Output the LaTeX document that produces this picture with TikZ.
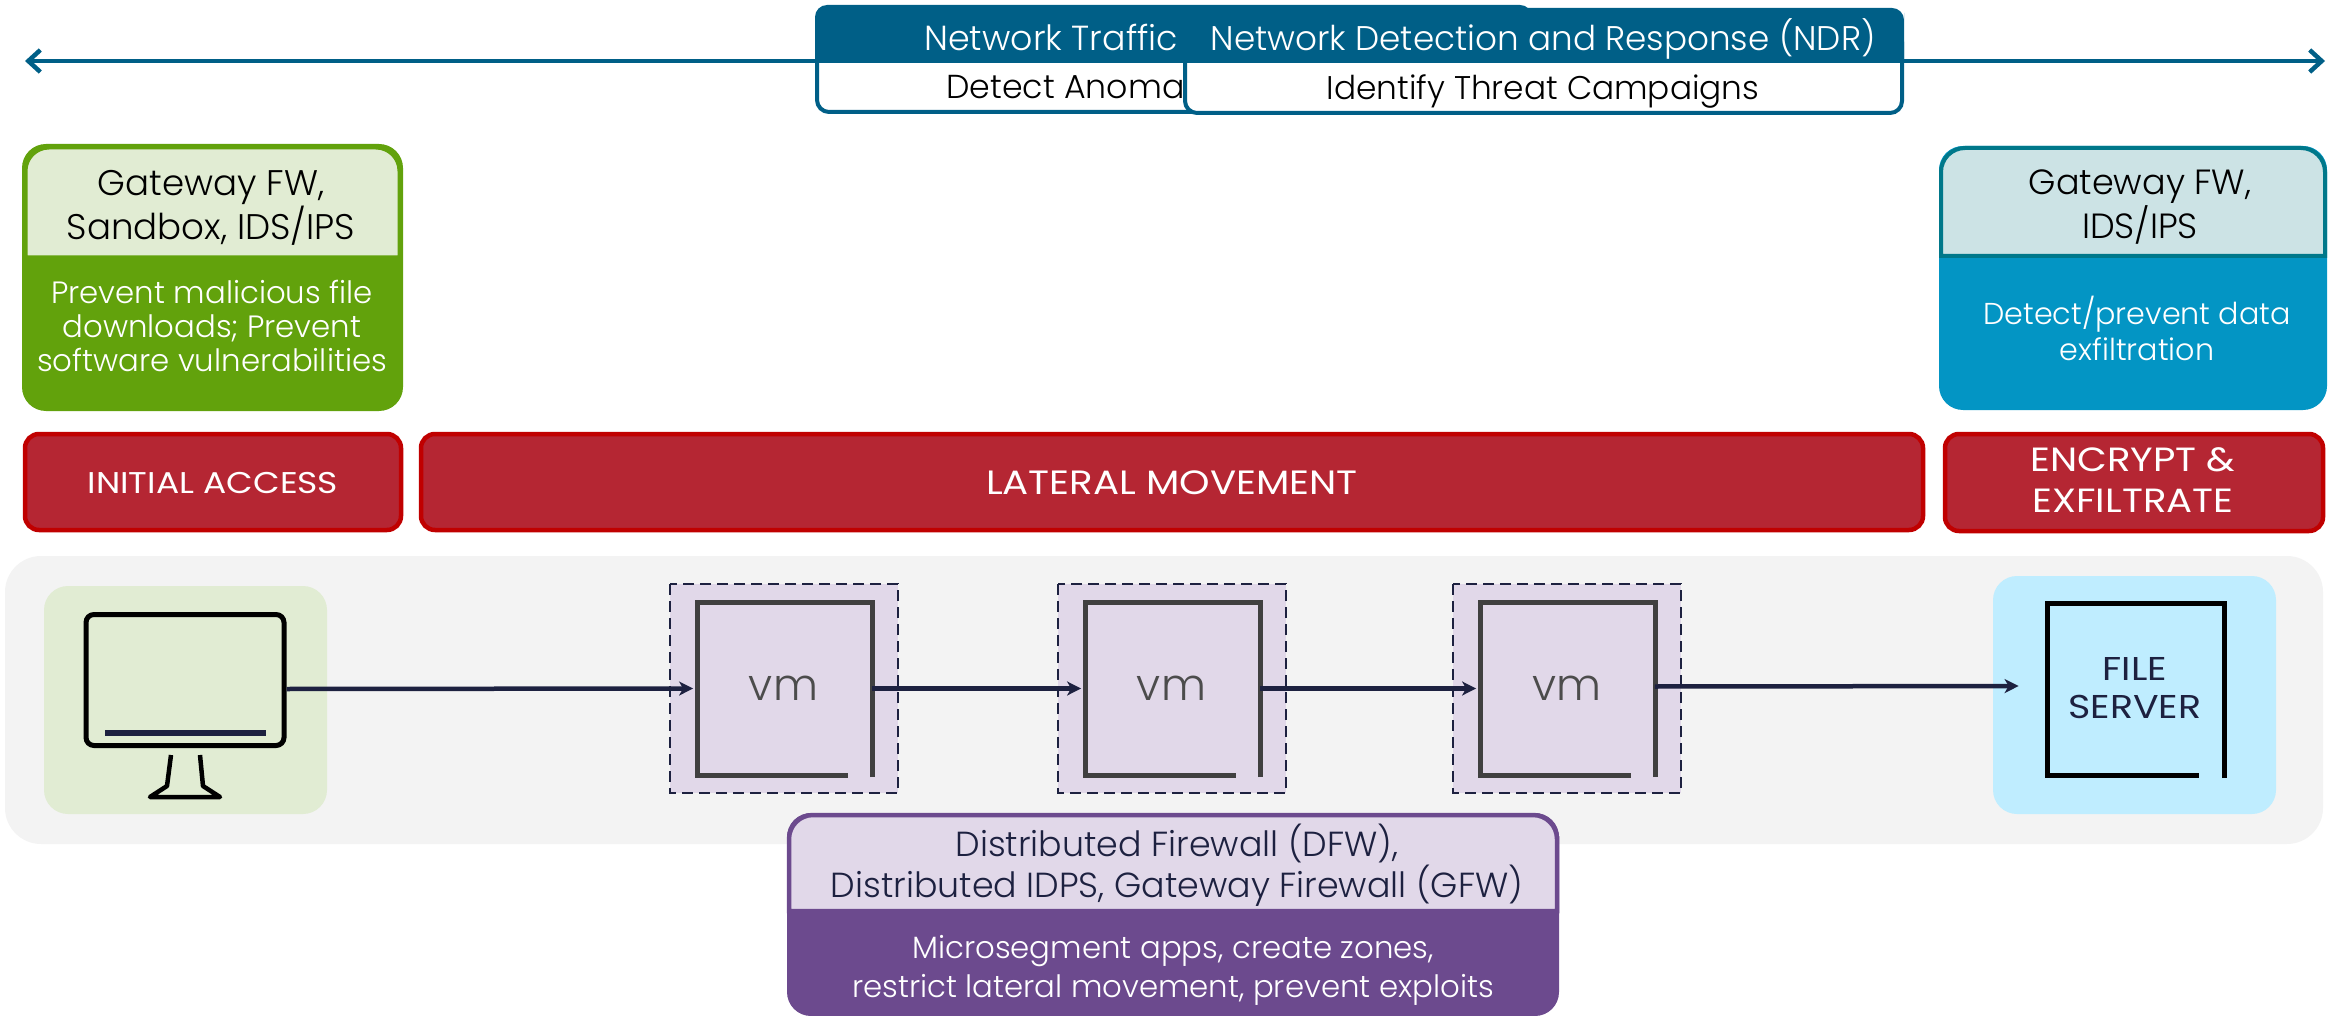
\documentclass[tikz,border=0pt]{standalone}
\usepackage{fontspec}
\setmainfont{Poppins}[UprightFont=* Light]
\newfontfamily\stagefont{Poppins}[FakeStretch=1.15]
\usetikzlibrary{arrows.meta, positioning}
\definecolor{ink}{HTML}{1D2140}
\definecolor{teal}{HTML}{005F87}
\definecolor{leaf}{HTML}{62A20C}
\definecolor{leaflight}{HTML}{E1ECD3}
\definecolor{sea}{HTML}{00788A}
\definecolor{sealight}{HTML}{CCE3E5}
\definecolor{sky}{HTML}{0395C4}
\definecolor{skylight}{HTML}{BFEDFF}
\definecolor{wine}{HTML}{B52633}
\definecolor{winerim}{HTML}{C00000}
\definecolor{plum}{HTML}{6C4A8E}
\definecolor{plumlight}{HTML}{E1D8E9}
\definecolor{band}{HTML}{F3F3F3}
\tikzstyle{headtext} = [align=center, inner sep=0pt, font=\fontsize{17.8}{20.5}\selectfont]
\tikzstyle{bodytext} = [align=center, inner sep=0pt, text=white, font=\fontsize{15.4}{17}\selectfont]
\tikzstyle{stage} = [align=center, inner sep=0pt, text=white, font=\stagefont\fontsize{15}{20.5}\selectfont]
\tikzstyle{stagebox} = [draw=winerim, fill=wine, line width=2.25pt, rounded corners=7pt]
\tikzstyle{pad} = [rounded corners=12pt]
\tikzstyle{arrow} = [-{Stealth[length=7pt,width=7pt,inset=2pt]}, ink, line width=2.25pt]
\tikzstyle{span} = [{Straight Barb[length=6pt,width=11pt]}-{Straight Barb[length=6pt,width=11pt]}, teal, line width=2.25pt]
\begin{document}
\begin{tikzpicture}[x=0.5pt, y=-0.5pt]
	\useasboundingbox (0,0) rectangle (2340,1016);

	% set up top line
	\coordinate (spanleft) at (25,61);
	\coordinate (spanright) at (2325,61);
	\draw [span] (spanleft) -- (spanright);

	% set up top boxes
	\draw [teal, fill=white, line width=2pt, rounded corners=6pt] (817,30) rectangle (1530,112);
	\fill [teal] (815,63) -- (815,25) [rounded corners=6pt] -- (815,5) -- (1532,5) -- (1532,25) [sharp corners] -- (1532,63) -- cycle;
	\node (nta) [headtext, text=white, anchor=west, font=\fontsize{17.4}{20.5}\selectfont] at (924,37) {Network Traffic};
	\node (anomaly) [headtext, text=black, anchor=west, font=\fontsize{16.6}{20.5}\selectfont] at (946,87) {Detect Anoma};
	\draw [teal, fill=white, line width=2pt, rounded corners=6pt] (1185,30) rectangle (1902,113);
	\fill [teal] (1183,63) -- (1183,25) [rounded corners=6pt] -- (1183,8) -- (1904,8) -- (1904,25) [sharp corners] -- (1904,63) -- cycle;
	\node (ndr) [headtext, text=white, font=\fontsize{17.1}{20.5}\selectfont] at (1543,39) {Network Detection and Response (NDR)};
	\node (campaign) [headtext, text=black, font=\fontsize{16.4}{20.5}\selectfont] at (1543,91) {Identify Threat Campaigns};

	% set up left box
	\fill [leaf, rounded corners=12pt] (22,144) rectangle (403,411);
	\draw [leaf, fill=leaflight, line width=2.5pt] (25,258) -- (25,200) [rounded corners=12pt] -- (25,147) -- (400,147) -- (400,200) [sharp corners] -- (400,258) -- cycle;
	\node (gwleft) [headtext, text=black] at (211,208) {Gateway FW,\\Sandbox, IDS/IPS};
	\node (prevent) [bodytext] at (212,326) {Prevent malicious file\\downloads; Prevent\\software vulnerabilities};

	% set up right box
	\fill [sky, rounded corners=12pt] (1939,146) rectangle (2327,410);
	\draw [sea, fill=sealight, line width=2pt] (1941,256) -- (1941,200) [rounded corners=12pt] -- (1941,148) -- (2325,148) -- (2325,200) [sharp corners] -- (2325,256) -- cycle;
	\node (gwright) [headtext, text=black, font=\fontsize{17.5}{20.5}\selectfont] at (2140,207) {Gateway FW,\\IDS/IPS};
	\node (detect) [bodytext, font=\fontsize{15.1}{18}\selectfont] at (2137,328) {Detect/prevent data\\exfiltration};

	% set up stages
	\draw [stagebox] (25,434) rectangle (401,530);
	\draw [stagebox] (421,434) rectangle (1923,530);
	\draw [stagebox] (1945,434) rectangle (2323,531);
	\node (initial) [stage] at (213,483) {INITIAL ACCESS};
	\node (lateral) [stage, font=\stagefont\fontsize{16.85}{20.5}\selectfont] at (1172,483) {LATERAL MOVEMENT};
	\node (encrypt) [stage, font=\stagefont\fontsize{16.8}{20.5}\selectfont] at (2133,480) {ENCRYPT \&\\EXFILTRATE};

	% set up grey band and pads
	\fill [band, rounded corners=18pt] (5,556) rectangle (2323,844);
	\fill [leaflight, pad] (44,586) rectangle (327,814);
	\fill [skylight, pad] (1993,576) rectangle (2276,814);

	% set up monitor
	\node (pc) [draw=black, line width=2.5pt, rounded corners=4pt, inner sep=0pt, minimum width=99pt, minimum height=65.5pt] at (185,680) {};
	\fill [ink] (105,730) rectangle (266,736);
	\draw [black, line width=2.25pt, line join=round] (171,755) -- (167,786) -- (150,797) -- (220,797) -- (203,786) -- (200,755);

	% set up vm boxes
	\foreach \vmx/\vmname in {670/vm1, 1058/vm2, 1453/vm3} {
		\draw [ink, fill=plumlight, line width=1.25pt, dash pattern=on 5.5pt off 3pt] (\vmx,584) rectangle (\vmx+228,793);
		\node (\vmname) [inner sep=0pt, text=black!70, minimum width=88pt, minimum height=88pt, font=\fontsize{22}{22}\selectfont] at (\vmx+113.5,688.5) {\raisebox{-2.5pt}{vm}};
		\draw [black!75, line width=2.5pt] (\vmx+202,777) -- (\vmx+202,602) -- (\vmx+27,602) -- (\vmx+27,775) -- (\vmx+178,775);
	}

	% set up file server
	\node (file) [inner sep=0pt, text=ink, minimum width=90pt, minimum height=88pt, align=center, font=\stagefont\fontsize{16.5}{19}\selectfont] at (2135,688) {FILE\\SERVER};
	\draw [black, line width=2.5pt] (2224,778) -- (2224,603) -- (2047,603) -- (2047,775) -- (2199,775);

	% set up arrows between nodes
	\draw [arrow, shorten >=1pt] ([yshift=-4.5pt]pc.east) -- (vm1.west);
	\draw [arrow, shorten >=1pt] (vm1.east) -- (vm2.west);
	\draw [arrow, shorten >=1pt] (vm2.east) -- (vm3.west);
	\draw [arrow, shorten >=13pt] ([yshift=1pt]vm3.east) -- ([yshift=1pt]file.west);

	% set up bottom box
	\fill [plum, rounded corners=12pt] (787,813) rectangle (1559,1016);
	\draw [plum, fill=plumlight, line width=2.25pt] (789,911) -- (789,860) [rounded corners=12pt] -- (789,815) -- (1557,815) -- (1557,860) [sharp corners] -- (1557,911) -- cycle;
	\node (dfw) [headtext, text=ink, font=\fontsize{17.4}{20.5}\selectfont] at (1177,865) {Distributed Firewall (DFW),\\Distributed IDPS, Gateway Firewall (GFW)};
	\node (segment) [bodytext, font=\fontsize{15.4}{19.5}\selectfont] at (1173,970) {Microsegment apps, create zones,\\restrict lateral movement, prevent exploits};

\end{tikzpicture}
\end{document}
